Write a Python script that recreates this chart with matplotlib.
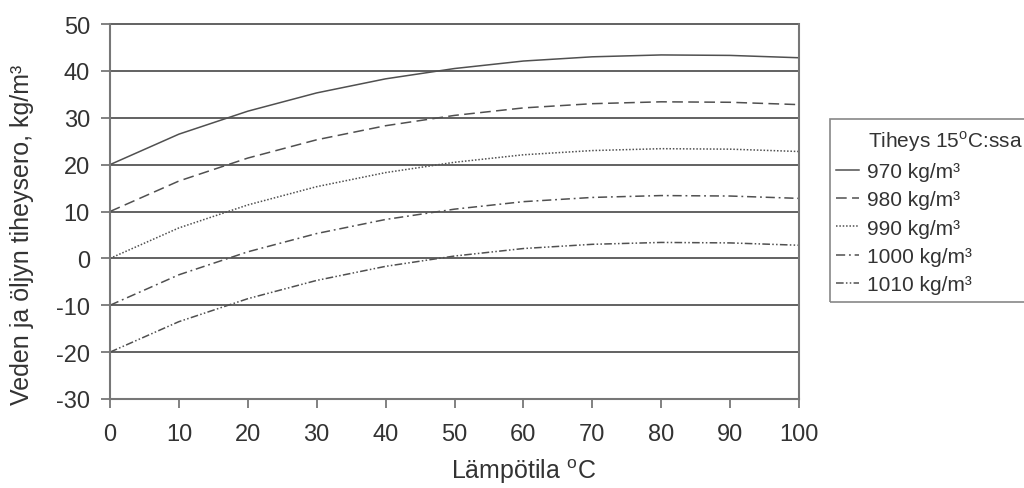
import matplotlib
matplotlib.use("Agg")
import matplotlib.pyplot as plt
from matplotlib.patches import Rectangle

plt.rcParams["font.family"] = ["Liberation Sans", "DejaVu Sans"]
plt.rcParams["mathtext.fontset"] = "custom"
plt.rcParams["mathtext.rm"] = "Liberation Sans"
plt.rcParams["axes.unicode_minus"] = False

temps = [0, 10, 20, 30, 40, 50, 60, 70, 80, 90, 100]
d970 = [20.0, 26.5, 31.4, 35.3, 38.3, 40.5, 42.1, 43.0, 43.4, 43.3, 42.8]
d980 = [10.0, 16.5, 21.4, 25.3, 28.3, 30.5, 32.1, 33.0, 33.4, 33.3, 32.8]
d990 = [0.0, 6.5, 11.4, 15.3, 18.3, 20.5, 22.1, 23.0, 23.4, 23.3, 22.8]
d1000 = [-10.0, -3.5, 1.4, 5.3, 8.3, 10.5, 12.1, 13.0, 13.4, 13.3, 12.8]
d1010 = [-20.0, -13.5, -8.6, -4.7, -1.7, 0.5, 2.1, 3.0, 3.4, 3.3, 2.8]
labels = ["970 kg/m³", "980 kg/m³", "990 kg/m³",
          "1000 kg/m³", "1010 kg/m³"]
legend_title = "Tiheys 15$^{\\rm o}$C:ssa"
xticks = [0, 10, 20, 30, 40, 50, 60, 70, 80, 90, 100]
yticks = [-30, -20, -10, 0, 10, 20, 30, 40, 50]

text_c = "#333333"
line_c = "#505050"
axis_c = "#777777"

fig = plt.figure(figsize=(10.24, 4.89), dpi=100)
ax = fig.add_axes([110 / 1024, 89 / 489, 689 / 1024, 375 / 489])

styles = ["-", (0, (7, 3.5)), (0, (1, 1.2)), (0, (6, 2.5, 1.2, 2.5)),
          (0, (5, 1.5, 1, 1.5, 1, 1.5))]
series = [d970, d980, d990, d1000, d1010]
for ys, ls, lab in zip(series, styles, labels):
    ax.plot(temps, ys, color=line_c, lw=1.1, linestyle=ls, label=lab)

ax.set_xlim(0, 100)
ax.set_ylim(-30, 50)
ax.set_xticks(xticks)
ax.set_yticks(yticks)
for y in yticks[1:]:
    ax.axhline(y, color="#555555", lw=1.3, zorder=0, clip_on=False)

ax.spines["top"].set_visible(False)
for side in ["left", "bottom", "right"]:
    ax.spines[side].set_color(axis_c)
    ax.spines[side].set_linewidth(1.5)

ax.tick_params(axis="both", direction="out", length=6.5, width=1.3,
               color=axis_c, labelcolor=text_c, labelsize=17)
ax.tick_params(axis="x", pad=11)
ax.tick_params(axis="y", pad=8)

fig.text(524 / 1024, 1 - 472 / 489, "Lämpötila $^{\\rm o}$C", fontsize=18,
         color=text_c, ha="center", va="center")
fig.text(22 / 1024, 1 - 235 / 489, "Veden ja öljyn tiheysero, kg/m³",
         fontsize=18, color=text_c, ha="center", va="center", rotation=90)

fig.patches.append(Rectangle((830 / 1024, 1 - 303 / 489), 0.3,
                             183 / 489, transform=fig.transFigure,
                             fill=False, edgecolor="#888888", lw=1.2))

fig.text(868 / 1024, 1 - 142 / 489, legend_title, fontsize=15,
         color=text_c, va="center", ha="left")
leg = fig.legend(loc="upper left", bbox_to_anchor=(836 / 1024, 1 - 163 / 489),
                 frameon=False, fontsize=15, handlelength=1.1,
                 handletextpad=0.4, labelspacing=0.45, borderaxespad=0,
                 borderpad=0)
for t in leg.get_texts():
    t.set_color(text_c)

fig.savefig("out.png", dpi=100)
